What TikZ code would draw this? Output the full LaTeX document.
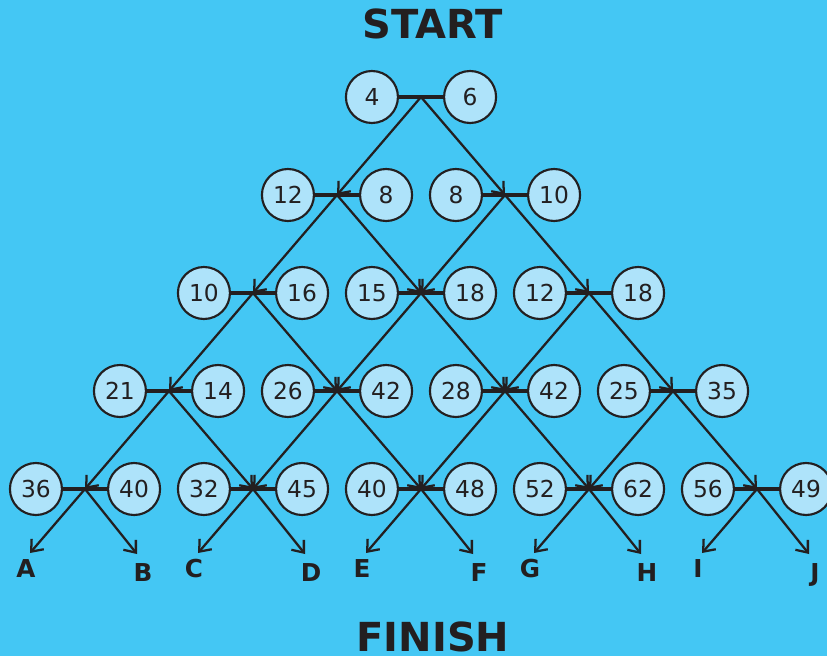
\documentclass[tikz,border=0pt]{standalone}
\usepackage{fontspec}
\setmainfont{DejaVu Sans}
\usetikzlibrary{positioning,arrows.meta}
\definecolor{sky-bg}{HTML}{44C7F4}
\definecolor{ball-fill}{HTML}{AEE3FA}
\definecolor{ink}{HTML}{231F20}

\tikzset{
  ball/.style={circle, draw=ink, line width=1.6pt, fill=ball-fill,
    minimum size=39pt, inner sep=0pt, text=ink,
    font=\fontsize{17.5}{20}\selectfont},
  link/.style={draw=ink, line width=2.4pt},
  route/.style={draw=ink, line width=1.7pt,
    -{Straight Barb[length=7.5pt,width=12pt]}},
  endlbl/.style={inner sep=0pt, text=ink,
    font=\bfseries\fontsize{18.5}{20}\selectfont},
  banner/.style={inner sep=0pt, text=ink,
    font=\bfseries\fontsize{30}{32}\selectfont}
}

\begin{document}
\begin{tikzpicture}[x=0.75pt, y=-0.75pt]
  \useasboundingbox (0,0) rectangle (827,656);
  \fill[sky-bg] (0,0) rectangle (827,656);

  \node[banner] (start) at (433,24) {START};
  \node[banner] (finish) at (433,637) {FINISH};

  % junction points of the pyramid
  \foreach \row/\col in {0/0, 1/0, 1/1, 2/0, 2/1, 2/2, 3/0, 3/1, 3/2, 3/3,
                         4/0, 4/1, 4/2, 4/3, 4/4}
    \coordinate (j\row\col) at ({421+(2*\col-\row)*84},{97+98*\row});

  % pairs of numbers
  \foreach \row/\col/\a/\b in {0/0/4/6,
      1/0/12/8, 1/1/8/10,
      2/0/10/16, 2/1/15/18, 2/2/12/18,
      3/0/21/14, 3/1/26/42, 3/2/28/42, 3/3/25/35,
      4/0/36/40, 4/1/32/45, 4/2/40/48, 4/3/52/62, 4/4/56/49}{
    \node[ball, left=16.5pt of j\row\col] (l\row\col) {\a};
    \node[ball, right=16.5pt of j\row\col] (r\row\col) {\b};
    \draw[link] (l\row\col) -- (r\row\col);
  }

  % routes down
  \foreach \row in {0,...,3}{
    \foreach \col in {0,...,\row}{
      \pgfmathtruncatemacro\nrow{\row+1}
      \pgfmathtruncatemacro\ncol{\col+1}
      \draw[route] (j\row\col) -- (j\nrow\col);
      \draw[route] (j\row\col) -- (j\nrow\ncol);
    }
  }

  % exits
  \foreach \col/\p/\q in {0/A/B, 1/C/D, 2/E/F, 3/G/H, 4/I/J}{
    \coordinate (e\p) at ({421+(2*\col-4)*84-55},553);
    \coordinate (e\q) at ({421+(2*\col-4)*84+52},554);
    \draw[route] (j4\col) -- (e\p);
    \draw[route] (j4\col) -- (e\q);
    \node[endlbl, anchor=north, below=4.5pt of e\p, xshift=-3pt] (t\p) {\p};
    \node[endlbl, anchor=north, below=7pt of e\q, xshift=4.5pt] (t\q) {\q};
  }
\end{tikzpicture}
\end{document}
